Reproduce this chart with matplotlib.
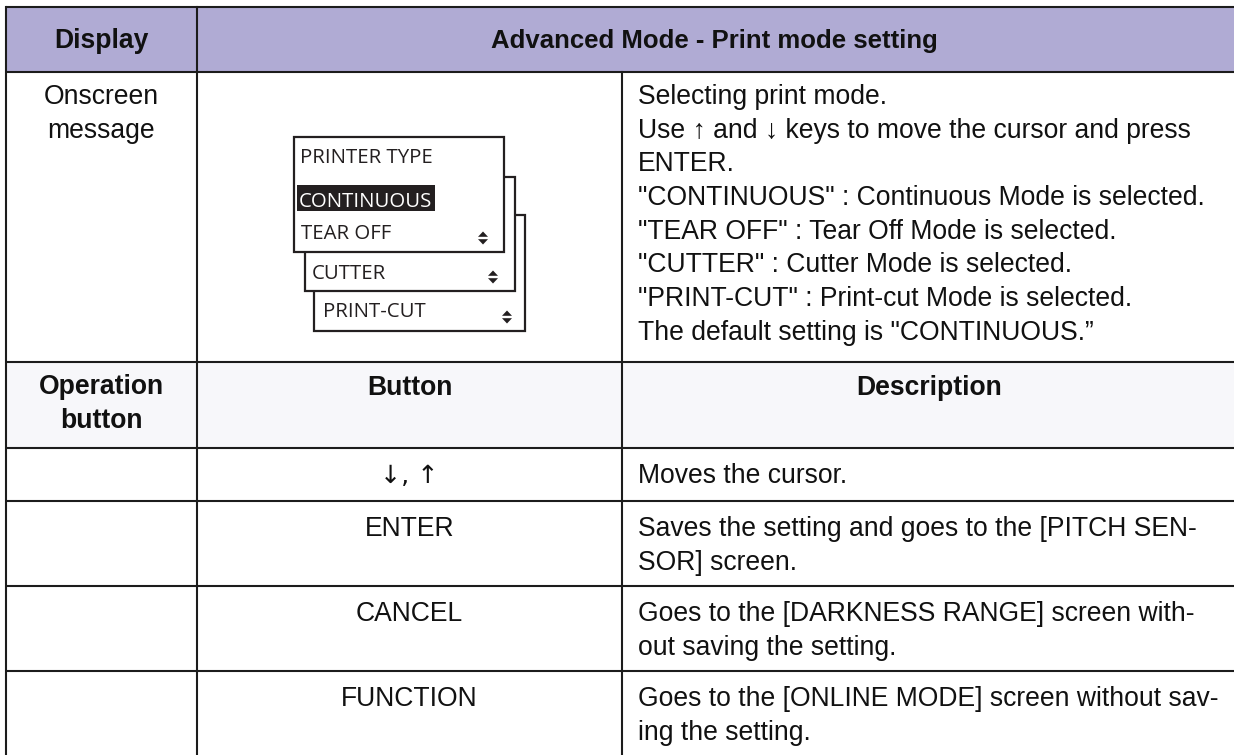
import matplotlib
matplotlib.use("Agg")
import matplotlib.pyplot as plt
from matplotlib.patches import Rectangle, Polygon

# ---------------- content ----------------
header_display = "Display"
header_mode = "Advanced Mode - Print mode setting"
row_label = ["Onscreen", "message"]
screen_title = "PRINTER TYPE"
screen_options = ["CONTINUOUS", "TEAR OFF", "CUTTER", "PRINT-CUT"]
screen_desc = [
    "Selecting print mode.",
    "Use \u2191 and \u2193 keys to move the cursor and press",
    "ENTER.",
    "\"CONTINUOUS\" : Continuous Mode is selected.",
    "\"TEAR OFF\" : Tear Off Mode is selected.",
    "\"CUTTER\" : Cutter Mode is selected.",
    "\"PRINT-CUT\" : Print-cut Mode is selected.",
    "The default setting is \"CONTINUOUS.\u201d",
]
op_header = [["Operation", "button"], ["Button"], ["Description"]]
buttons = ["\u2193, \u2191", "ENTER", "CANCEL", "FUNCTION"]
descriptions = [
    ["Moves the cursor."],
    ["Saves the setting and goes to the [PITCH SEN-", "SOR] screen."],
    ["Goes to the [DARKNESS RANGE] screen with-", "out saving the setting."],
    ["Goes to the [ONLINE MODE] screen without sav-", "ing the setting."],
]

# ---------------- layout ----------------
W, H = 1234, 755
fig = plt.figure(figsize=(W / 100, H / 100), dpi=100)
ax = fig.add_axes([0, 0, 1, 1])
ax.set_xlim(0, W)
ax.set_ylim(H, 0)
ax.axis("off")

FONT = ["Liberation Sans", "DejaVu Sans"]
SCR_FONT = ["Open Sans", "DejaVu Sans"]
FS = 19.1
LINE = 33.7
col_x = [6, 197, 622, 1250]
RIGHT = 1236
row_y = [7, 72, 362, 448, 501, 586, 671, 760]
HEAD_C = "#b0abd4"
OPH_C = "#f7f7fa"
EDGE = "#1c1c1c"
LW = 1.5

# backgrounds
ax.add_patch(Rectangle((col_x[0], row_y[0]), col_x[3] - col_x[0], row_y[1] - row_y[0],
                       facecolor=HEAD_C, edgecolor="none"))
ax.add_patch(Rectangle((col_x[0], row_y[2]), col_x[3] - col_x[0], row_y[3] - row_y[2],
                       facecolor=OPH_C, edgecolor="none"))

# grid lines
for y in row_y[:-1]:
    ax.plot([col_x[0], col_x[3]], [y, y], color=EDGE, lw=LW, solid_capstyle="butt")
ax.plot([col_x[0], col_x[0]], [row_y[0], row_y[-1]], color=EDGE, lw=LW)
ax.plot([col_x[1], col_x[1]], [row_y[0], row_y[-1]], color=EDGE, lw=LW)
ax.plot([col_x[2], col_x[2]], [row_y[1], row_y[-1]], color=EDGE, lw=LW)

c1 = (col_x[0] + col_x[1]) / 2
c2 = (col_x[1] + col_x[2]) / 2
c3 = (col_x[2] + RIGHT) / 2
c23 = (col_x[1] + RIGHT) / 2

def txt(x, y, s, ha="center", bold=False, family=FONT, fs=FS, **kw):
    ax.text(x, y, s, ha=ha, va="baseline", fontsize=fs, family=family,
            fontweight="bold" if bold else "normal", color="#111111", **kw)

# header row
txt(c1, 48, header_display, bold=True)
txt(c23 - 2, 48, header_mode, bold=True, fs=FS * 0.97)

# onscreen message row
for i, s in enumerate(row_label):
    txt(c1, 104 + i * LINE, s)
for i, s in enumerate(screen_desc):
    txt(638, 104 + i * LINE, s, ha="left")

# screen mock-up (three stacked boxes, back to front)
boxes = [(314, 215, 525, 331), (305, 177, 515, 291), (294, 137, 504, 252)]
for (x0, y0, x1, y1) in boxes:
    ax.add_patch(Rectangle((x0, y0), x1 - x0, y1 - y0, facecolor="white",
                           edgecolor="#231f20", lw=1.6, zorder=3))

SFS = 14.7
ax.text(300, 163, screen_title, ha="left", va="baseline", fontsize=SFS,
        family=SCR_FONT, color="#231f20", zorder=4)
ax.add_patch(Rectangle((297, 185), 138, 26, facecolor="#231f20", edgecolor="none", zorder=4))
opt_pos = [(299, 207), (301, 239), (312, 279), (323, 317)]
for k, (s, (x, y)) in enumerate(zip(screen_options, opt_pos)):
    ax.text(x, y, s, ha="left", va="baseline", fontsize=SFS, family=SCR_FONT,
            color="white" if k == 0 else "#231f20", zorder=5)
arrow_pos = [(483, 238), (493, 277), (507, 317)]
for (x, y) in arrow_pos:
    ax.add_patch(Polygon([(x - 5, y - 1.2), (x + 5, y - 1.2), (x, y - 6.5)],
                         closed=True, facecolor="#231f20", edgecolor="none", zorder=5))
    ax.add_patch(Polygon([(x - 5, y + 1.2), (x + 5, y + 1.2), (x, y + 6.5)],
                         closed=True, facecolor="#231f20", edgecolor="none", zorder=5))

# operation header
for i, s in enumerate(op_header[0]):
    txt(c1, 394 + i * LINE, s, bold=True)
txt(c2, 395, op_header[1][0], bold=True)
txt(c3, 395, op_header[2][0], bold=True)

# button rows
for r, (b, d) in enumerate(zip(buttons, descriptions)):
    base = row_y[3 + r] + 35
    if r == 0:
        txt(c2, base, b, family=["DejaVu Sans"], fs=FS * 0.95)
    else:
        txt(c2, base, b)
    for i, s in enumerate(d):
        txt(638, base + i * LINE, s, ha="left")

fig.savefig("out.png", dpi=100, facecolor="white")
